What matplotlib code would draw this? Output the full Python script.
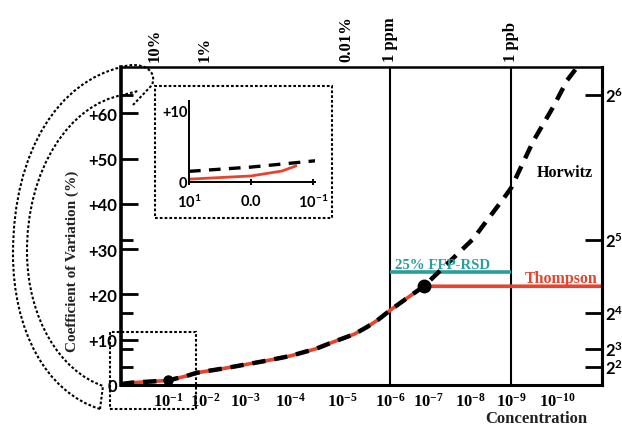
import numpy as np
import matplotlib
matplotlib.use("Agg")
import matplotlib.pyplot as plt
from matplotlib.path import Path
from matplotlib.patches import PathPatch, Rectangle

plt.rcParams['mathtext.fontset'] = 'custom'
plt.rcParams['mathtext.rm'] = 'Liberation Serif:bold'
plt.rcParams['mathtext.bf'] = 'Liberation Serif:bold'
plt.rcParams['mathtext.sf'] = 'Lato:bold'

SERIF = 'Liberation Serif'
SANS = 'Lato'
RED = '#e8432d'
TEAL = '#2a9e9c'

W, H = 622, 427

# the concentration axis of the original is not evenly spaced:
# exponent n (of 10^-n) -> position along the axis
AXIS_EXP = [-3, 1, 2, 3, 4, 5, 6, 7, 8, 9, 10, 14]
AXIS_POS = [20, 168, 205, 245, 290, 342, 390, 428, 470, 511, 557, 733]

conc_ticks = [1, 2, 3, 4, 5, 6, 7, 8, 9, 10]
conc_labels = [r'$\mathrm{10^{-%d}}$' % n for n in conc_ticks]
top_pos = [0.65, 2, 5.1, 6, 9]
top_labels = ['10%', '1%', '0.01%', '1 ppm', '1 ppb']
ref_lines = [6, 9]

cv_ticks = [0, 10, 20, 30, 40, 50, 60]
cv_labels = ['0', '+10', '+20', '+30', '+40', '+50', '+60']
pow2_ticks = [4, 8, 16, 32, 64]
pow2_labels = [r'$\mathsf{2^{%d}}$' % k for k in [2, 3, 4, 5, 6]]

horwitz_x = [-0.27, 0, 1, 1.5, 1.78, 2, 2.5, 3, 3.5, 4, 4.5, 4.83, 5.25, 5.52, 5.75,
             6.05, 6.45, 6.89, 8.07, 8.85, 9, 9.48, 9.91, 10.23, 10.5]
horwitz_cv = [0.2, 0.5, 1.0, 2.0, 2.7, 3.0, 3.7, 4.5, 5.4, 6.4, 8.0, 9.5, 11.2, 12.8, 14.4,
              16.8, 19.2, 21.8, 32.2, 41.6, 43.5, 53.8, 61.3, 67.3, 70.7]
thompson_x = [-0.27, 0, 1, 1.5, 1.78, 2, 2.5, 3, 3.5, 4, 4.5, 4.83, 5.25, 5.52, 5.75,
              6.05, 6.45, 6.89, 11.1]
thompson_cv = [0.2, 0.5, 1.0, 2.0, 2.7, 3.0, 3.7, 4.5, 5.4, 6.4, 8.0, 9.5, 11.2, 12.8, 14.4,
               16.8, 19.2, 21.8, 21.8]
ffp_x = [6, 9]
ffp_cv = [25, 25]
crossover = (6.89, 21.8)
point_01 = (1, 1.0)

# inset (zoom of the low-concentration end)
inset_ticks = [-1, 0, 1]
inset_labels = [r'$\mathsf{10^{1}}$', r'$\mathsf{0.0}$', r'$\mathsf{10^{-1}}$']
inset_h_x = [-1, 0, 1.05]
inset_h_cv = [1.5, 2.1, 3.0]
inset_t_x = [-1, 0, 0.5, 0.72]
inset_t_cv = [0.4, 0.85, 1.55, 2.25]


def fwd(e):
    return np.interp(e, AXIS_EXP, AXIS_POS)


def inv(p):
    return np.interp(p, AXIS_POS, AXIS_EXP)


def fig_xy(x, y):
    return (x / W, 1 - y / H)


fig = plt.figure(figsize=(W / 100, H / 100), dpi=100)
ax = fig.add_axes([121 / W, 1 - 386 / H, 481 / W, 318 / H])
ax.set_xscale('function', functions=(fwd, inv))
ax.set_xlim(-0.27, 11.02)
ax.set_ylim(0, 70.2)

for e in ref_lines:
    ax.axvline(e, color='black', lw=1.5, zorder=1)
ax.plot(ffp_x, ffp_cv, color=TEAL, lw=2.6, solid_capstyle='butt', zorder=2)
ax.plot(thompson_x, thompson_cv, color=RED, lw=2.6, zorder=2)
ax.plot(horwitz_x, horwitz_cv, color='black', lw=3.2, ls=(0, (3, 2)), zorder=3)
ax.plot(*crossover, 'o', color='black', ms=9, zorder=4)
ax.plot(*point_01, 'o', color='black', ms=6.5, zorder=4)

ax.text(10.18, 47.1, 'Horwitz', ha='center', va='center', fontfamily=SERIF,
        fontweight='bold', fontsize=11.5)
ax.text(10.93, 22.7, 'Thompson', ha='right', va='baseline', fontfamily=SERIF,
        fontweight='bold', fontsize=11.5, color=RED)
ax.text(6.13, 25.9, '25% FFP-RSD', ha='left', va='baseline', fontfamily=SERIF,
        fontweight='bold', fontsize=10.7, color=TEAL)

ax.set_xticks(conc_ticks, labels=conc_labels, fontsize=12)
ax.tick_params(axis='x', length=0, pad=5)
ax.set_yticks(cv_ticks, labels=cv_labels, fontfamily=SANS, fontweight='bold', fontsize=12)
ax.set_yticks(pow2_ticks, minor=True)
ax.tick_params(axis='y', which='major', direction='in', length=12, width=2, pad=3)
ax.tick_params(axis='y', which='minor', direction='in', length=8.5, width=2)

sec = ax.secondary_yaxis('right')
sec.set_yticks(pow2_ticks, labels=pow2_labels, fontsize=12)
sec.tick_params(direction='in', length=12, width=2, pad=2)
sec.spines['right'].set_linewidth(2.2)

ax.spines['left'].set_linewidth(2.6)
ax.spines['bottom'].set_linewidth(2.2)
ax.spines['top'].set_linewidth(1.8)
ax.spines['right'].set_linewidth(2.2)

for pos, lab in zip(top_pos, top_labels):
    ax.text(pos, 1.018, lab, transform=ax.get_xaxis_transform(), rotation=90,
            ha='center', va='bottom', fontfamily=SERIF, fontweight='bold', fontsize=12)

fig.text(*fig_xy(72, 261), 'Coefficient of Variation (%)', rotation=90, ha='center',
         va='center', fontfamily=SERIF, fontweight='bold', fontsize=11, color='#222222')
fig.text(*fig_xy(536, 419), 'Concentration', ha='center', va='center',
         fontfamily=SERIF, fontweight='bold', fontsize=12, color='#222222')

# inset
axi = fig.add_axes([189 / W, 1 - 183 / H, 126 / W, 81 / H])
axi.patch.set_alpha(0)
axi.set_xlim(-1, 1.03)
axi.set_ylim(0, 11.4)
axi.plot(inset_t_x, inset_t_cv, color=RED, lw=2, zorder=2)
axi.plot(inset_h_x, inset_h_cv, color='black', lw=2.4, ls=(0, (3.5, 2.5)), zorder=3)
for s in ['top', 'right']:
    axi.spines[s].set_visible(False)
for s in ['left', 'bottom']:
    axi.spines[s].set_linewidth(1.4)
axi.set_xticks(inset_ticks, labels=inset_labels, fontsize=10.5)
axi.set_yticks([0, 10], labels=['0', '+10'], fontfamily=SANS, fontweight='bold', fontsize=10.5)
axi.tick_params(axis='x', direction='inout', length=4, width=1.4, pad=6)
axi.tick_params(axis='y', length=0, pad=1)

# dotted call-out boxes and connectors
dots = dict(fill=False, ls=(0, (1.3, 1.0)), lw=1.5, color='black', zorder=5,
            transform=fig.transFigure)
for (x0, y0, x1, y1) in [(155, 87, 332, 219), (110, 333, 196, 410)]:
    fig.add_artist(Rectangle(fig_xy(x0, y1), (x1 - x0) / W, (y1 - y0) / H, **dots))

outer = [(100, 410), (45, 393), (13, 330), (13, 255), (13, 150), (60, 82), (122, 68),
         (140, 62), (158, 70), (152, 86), (133, 106)]
outer_codes = [Path.MOVETO] + [Path.CURVE4] * 9 + [Path.LINETO]
inner = [(100, 410), (103, 387), (60, 372), (28, 320), (27, 255), (26, 170), (70, 105),
         (123, 96), (138, 92)]
inner_codes = [Path.MOVETO, Path.LINETO] + [Path.CURVE4] * 6 + [Path.LINETO]
for pts, codes in [(outer, outer_codes), (inner, inner_codes)]:
    verts = [fig_xy(x, y) for x, y in pts]
    fig.add_artist(PathPatch(Path(verts, codes), **dots))

fig.savefig('out.png', dpi=100)
